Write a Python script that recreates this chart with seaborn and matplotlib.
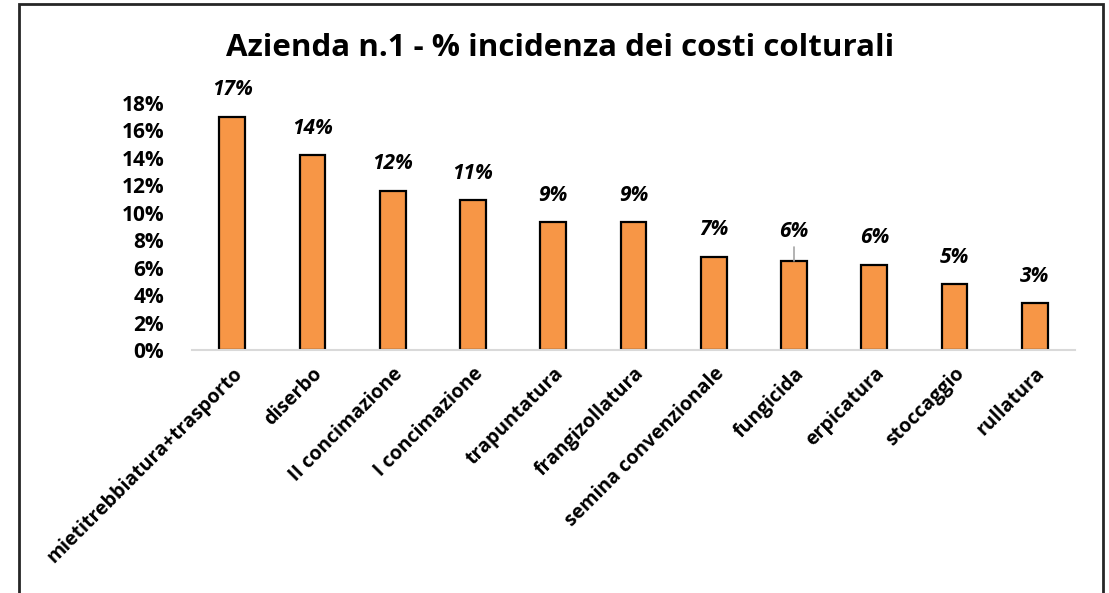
import matplotlib
matplotlib.use("Agg")
import matplotlib.pyplot as plt
import seaborn as sns
import pandas as pd
from matplotlib.patches import Rectangle
from matplotlib.ticker import PercentFormatter

categories = ["mietitrebbiatura+trasporto", "diserbo", "II concimazione", "I concimazione",
              "trapuntatura", "frangizollatura", "semina convenzionale", "fungicida",
              "erpicatura", "stoccaggio", "rullatura"]
values = [17.0, 14.2, 11.6, 10.9, 9.3, 9.3, 6.8, 6.5, 6.2, 4.8, 3.4]
yticks = [0, 2, 4, 6, 8, 10, 12, 14, 16, 18]
title = "Azienda n.1 - % incidenza dei costi colturali"

df = pd.DataFrame({"cat": categories, "val": values})

sns.set_theme(style="white")
plt.rcParams['font.family'] = ['Open Sans', 'DejaVu Sans']
plt.rcParams['text.color'] = 'black'
plt.rcParams['xtick.color'] = 'black'
plt.rcParams['ytick.color'] = 'black'

fig = plt.figure(figsize=(11.09, 5.93), dpi=100)
ax = fig.add_axes([192/1109, 243/593, (1075-192)/1109, (350-103)/593])

sns.barplot(data=df, x="cat", y="val", color="#F79646", width=0.32,
            edgecolor="black", linewidth=1.6, saturation=1, ax=ax)

ax.set_xlim(-0.5, len(categories) - 0.5)
ax.set_ylim(0, 18)
ax.set_yticks(yticks)
ax.yaxis.set_major_formatter(PercentFormatter(decimals=0))
ax.set_xlabel("")
ax.set_ylabel("")
for s in ["top", "right", "left"]:
    ax.spines[s].set_visible(False)
ax.spines["bottom"].set_color("#D9D9D9")
ax.spines["bottom"].set_linewidth(1.5)
ax.tick_params(axis="both", length=0)
ax.tick_params(axis="y", labelsize=15, pad=20, labelcolor="black")
for t in ax.get_yticklabels():
    t.set_fontweight("bold")
ax.set_xticks(range(len(categories)))
ax.set_xticklabels(categories, rotation=45, ha="right", rotation_mode="anchor",
                   fontsize=14, fontweight="bold", color="black")
ax.tick_params(axis="x", pad=10)

for i, v in enumerate(values):
    lbl = f"{round(v):d}%"
    off = 27
    if categories[i] == "fungicida":
        off = 29
        ax.plot([i, i], [v, v + 14/13.72], color="#A6A6A6", lw=1.2, clip_on=False)
    ax.annotate(lbl, xy=(i, v), xytext=(0, off * 72/100), textcoords="offset points",
                ha="center", va="center", fontsize=15, fontweight="bold",
                fontstyle="italic", color="black", annotation_clip=False)

fig.text(0.505, 0.919, title, ha="center", va="center", fontsize=22.5,
         fontweight="bold", color="black")

frame = Rectangle((19/1109, -0.1), (1103-19)/1109, (1.1 - 4/593), transform=fig.transFigure,
                  fill=False, edgecolor="#262626", linewidth=2, clip_on=False)
fig.patches.append(frame)

fig.savefig("out.png", dpi=100)
